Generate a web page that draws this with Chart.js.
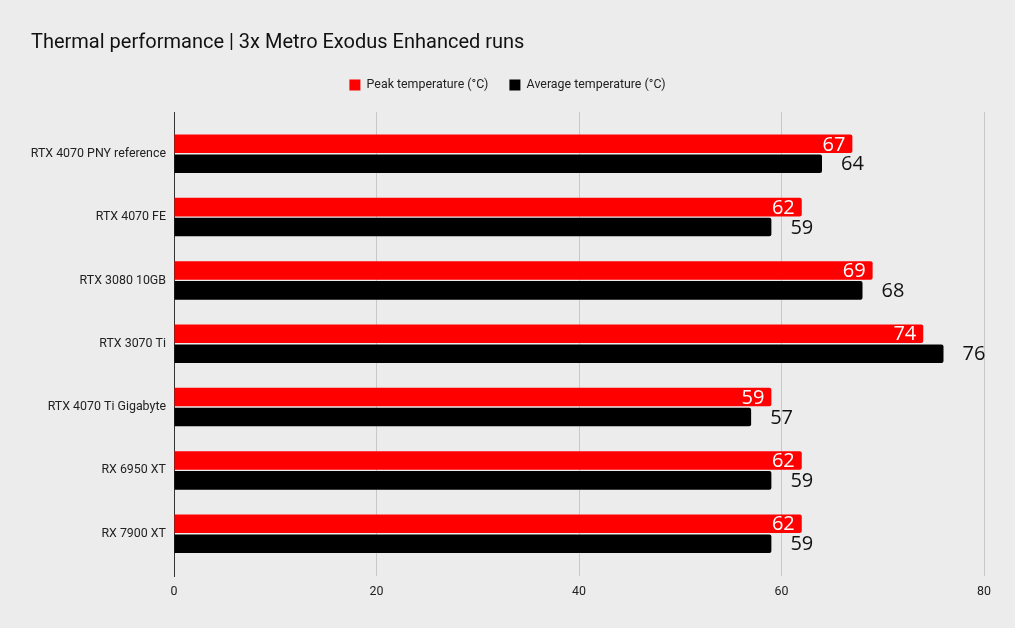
<!DOCTYPE html>
<html>
<head>
<meta charset="utf-8">
<script src="https://cdn.jsdelivr.net/npm/chart.js@4.4.1/dist/chart.umd.min.js"></script>
<style>
  html, body { margin: 0; padding: 0; background: #ececec; }
  #wrap { width: 1015px; height: 628px; }
</style>
</head>
<body>
<div id="wrap"><canvas id="chart" width="1015" height="628"></canvas></div>
<script>
// data
var cards = ['RTX 4070 PNY reference', 'RTX 4070 FE', 'RTX 3080 10GB', 'RTX 3070 Ti', 'RTX 4070 Ti Gigabyte', 'RX 6950 XT', 'RX 7900 XT'];
var peakTemp = [67, 62, 69, 74, 59, 62, 62];
var avgTemp = [64, 59, 68, 76, 57, 59, 59];
var seriesNames = ['Peak temperature (°C)', 'Average temperature (°C)'];
var xTicks = [0, 20, 40, 60, 80];

var smallFont = { family: 'Roboto', size: 12.4 };

//value labels next to the bars
var valueLabels = {
    id: 'valueLabels',
    afterDatasetsDraw: function(chart) {
        var ctx = chart.ctx;
        ctx.save();
        ctx.font = '20px "Open Sans"';
        ctx.textBaseline = 'middle';
        chart.data.datasets.forEach(function(ds, i) {
            var meta = chart.getDatasetMeta(i);
            meta.data.forEach(function(bar, j) {
                if (i == 0) {
                    ctx.fillStyle = '#ffffff';
                    ctx.textAlign = 'right';
                    ctx.fillText(ds.data[j], bar.x - 7, bar.y + 1);
                } else {
                    ctx.fillStyle = '#111111';
                    ctx.textAlign = 'left';
                    ctx.fillText(ds.data[j], bar.x + 19, bar.y + 1);
                }
            });
        });
        ctx.restore();
    }
};

// a bit more room under the legend
var legendGap = {
    id: 'legendGap',
    beforeLayout: function(chart) {
        var lg = chart.legend;
        if (lg && !lg._gapDone) {
            var fit = lg.fit;
            lg.fit = function() {
                fit.call(this);
                this.height += 10.8;
            };
            lg._gapDone = true;
        }
    }
};

var options = {
    indexAxis: 'y',
    responsive: false,
    animation: false,
    layout: {
        padding: { left: 31, right: 31, top: 0, bottom: 21 }
    },
    plugins: {
        title: {
            display: true,
            text: 'Thermal performance | 3x Metro Exodus Enhanced runs',
            align: 'start',
            color: '#111',
            font: { family: 'Roboto', size: 20, weight: 'normal' },
            padding: { top: 31, bottom: 2.8 }
        },
        legend: {
            position: 'top',
            labels: {
                boxWidth: 11,
                boxHeight: 11,
                padding: 21,
                color: '#222',
                font: smallFont
            }
        },
        tooltip: { enabled: false }
    },
    scales: {
        x: {
            min: 0,
            max: 80,
            afterBuildTicks: function(s) {
                s.ticks = xTicks.map(function(v) { return { value: v }; });
            },
            grid: {
                drawTicks: false,
                color: function(c) { return c.tick && c.tick.value === 0 ? '#333333' : '#c8c8c8'; },
                lineWidth: 1
            },
            border: { display: false },
            ticks: {
                padding: 8,
                color: '#222',
                font: smallFont
            }
        },
        y: {
            grid: { display: false, drawTicks: false },
            border: { display: true, color: '#333333', width: 1 },
            ticks: {
                padding: 8,
                color: '#222',
                font: smallFont
            },
            afterFit: function(s) { s.width = 143; },
            afterUpdate: function(s) {
                // keep a little empty space above the first and below the last group
                s._startValue = -0.5 - 0.16;
                s._valueRange = cards.length + 0.33;
            }
        }
    }
};

var chart = new Chart(document.getElementById('chart'), {
    type: 'bar',
    data: {
        labels: cards,
        datasets: [{
            label: seriesNames[0],
            data: peakTemp,
            backgroundColor: '#ff0000',
            borderRadius: 2,
            categoryPercentage: 0.63,
            barPercentage: 0.93
        }, {
            label: seriesNames[1],
            data: avgTemp,
            backgroundColor: '#000000',
            borderRadius: 2,
            categoryPercentage: 0.63,
            barPercentage: 0.93
        }]
    },
    options: options,
    plugins: [valueLabels, legendGap]
});
</script>
</body>
</html>
